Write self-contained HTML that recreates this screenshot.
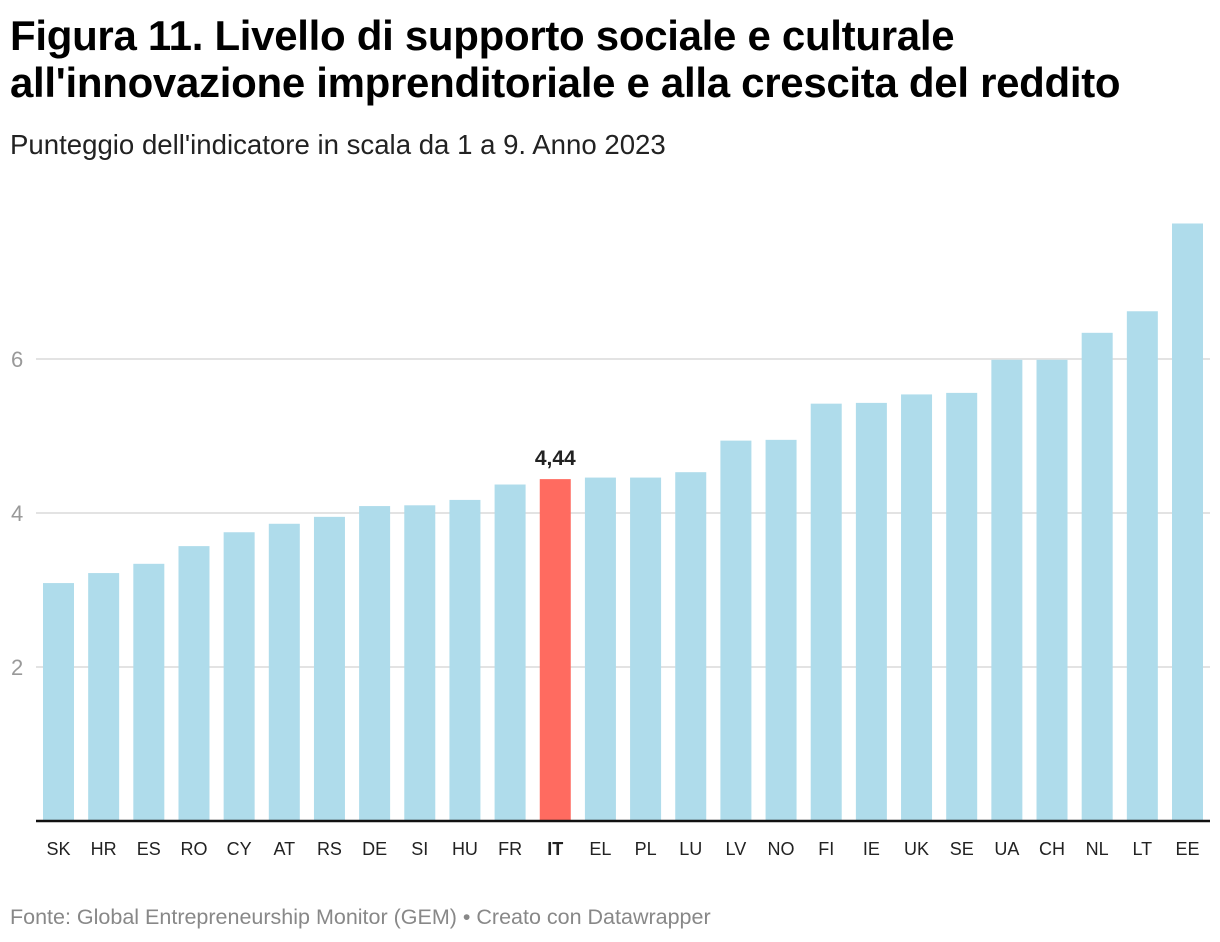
<!DOCTYPE html>
<html><head><meta charset="utf-8"><style>
body{margin:0;background:#fff;font-family:"Liberation Sans",Arial,sans-serif;}
#wrap{position:relative;width:1220px;height:942px;overflow:hidden;}
h1{position:absolute;left:10px;top:12px;margin:0;font-size:42px;line-height:47px;font-weight:bold;color:#000;letter-spacing:-0.3px;}
.sub{position:absolute;left:10px;top:129px;font-size:27.6px;color:#222;}
.foot{position:absolute;left:10px;top:905px;font-size:21.5px;color:#888;}
svg{position:absolute;left:0;top:0;}
</style></head><body><div id="wrap">
<h1>Figura 11. Livello di supporto sociale e culturale<br>all'innovazione imprenditoriale e alla crescita del reddito</h1>
<div class="sub">Punteggio dell'indicatore in scala da 1 a 9. Anno 2023</div>
<svg id="chart" width="1220" height="942"></svg>
<div class="foot">Fonte: Global Entrepreneurship Monitor (GEM) • Creato con Datawrapper</div>
</div>
<script>
const categories=["SK","HR","ES","RO","CY","AT","RS","DE","SI","HU","FR","IT","EL","PL","LU","LV","NO","FI","IE","UK","SE","UA","CH","NL","LT","EE"];
const values=[3.09,3.22,3.34,3.57,3.75,3.86,3.95,4.09,4.10,4.17,4.37,4.44,4.46,4.46,4.53,4.94,4.95,5.42,5.43,5.54,5.56,5.99,5.99,6.34,6.62,7.76];
const ticks=[2,4,6];
const highlight="IT";
const svg=document.getElementById('chart');const NS="http://www.w3.org/2000/svg";
const y0=821,unit=(821-359)/6;
const yS=v=>y0-v*unit;
const xS=i=>43+i*45.16;
const bw=31;
function mk(t,a){const e=document.createElementNS(NS,t);for(const k in a)e.setAttribute(k,a[k]);svg.appendChild(e);return e;}
ticks.forEach(t=>{
const l=mk('line',{x1:36,x2:1210,y1:yS(t),y2:yS(t),stroke:'#e3e3e3','stroke-width':2});


const tx=mk('text',{x:11,y:yS(t)+8,'font-size':22,fill:'#999'});tx.textContent=t;


});
categories.forEach((c,i)=>{
const v=values[i],hi=c===highlight;
const r=mk('rect',{x:xS(i),y:yS(v),width:bw,height:y0-yS(v),fill:hi?'#ff6b60':'#afdceb'});


const t=mk('text',{x:xS(i)+bw/2,y:855,'font-size':18,fill:'#222','text-anchor':'middle','font-weight':hi?'bold':'normal'});t.textContent=c;


if(hi){const lb=mk('text',{x:xS(i)+bw/2,y:yS(v)-14,'font-size':21,'font-weight':'bold',fill:'#222','text-anchor':'middle'});lb.textContent=v.toFixed(2).replace('.',',');

}
});
const ax=mk('line',{x1:36,x2:1210,y1:y0,y2:y0,stroke:'#111','stroke-width':2.5});


</script></body></html>
